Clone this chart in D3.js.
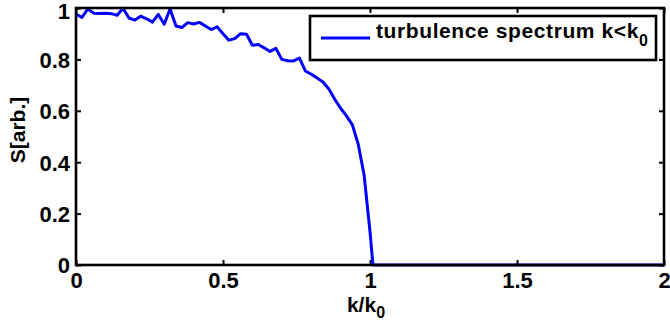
<!DOCTYPE html>
<html><head><meta charset="utf-8">
<script src="https://cdn.jsdelivr.net/npm/d3@7"></script>
<style>
html,body{margin:0;padding:0;background:#fff;}
text{font-family:"Liberation Sans",Arial,Helvetica,sans-serif;font-weight:bold;}
</style></head>
<body><svg id="chart" width="670" height="330"></svg>
<script>
const kValues = [0,0.02,0.04,0.06,0.08,0.10,0.12,0.14,0.16,0.18,0.20,0.22,0.24,0.26,0.28,0.30,0.32,0.34,0.36,0.38,0.40,0.42,0.44,0.46,0.48,0.50,0.52,0.54,0.56,0.58,0.60,0.62,0.64,0.66,0.68,0.70,0.72,0.74,0.76,0.78,0.80,0.82,0.84,0.86,0.88,0.90,0.92,0.94,0.96,0.98,1.00,1.01,2.00];
const sValues = [0.977,0.963,0.996,0.980,0.979,0.980,0.978,0.972,0.999,0.961,0.953,0.968,0.958,0.945,0.975,0.937,0.996,0.930,0.924,0.943,0.938,0.944,0.930,0.916,0.927,0.900,0.875,0.881,0.900,0.898,0.855,0.858,0.845,0.831,0.843,0.800,0.795,0.794,0.805,0.755,0.742,0.728,0.712,0.685,0.645,0.610,0.580,0.545,0.470,0.350,0.130,0,0];
const xTicks = [0,0.5,1,1.5,2];
const yTicks = [0,0.2,0.4,0.6,0.8,1];
const legendLabel = "turbulence spectrum k<k";

const svg = d3.select("#chart");
const L=76,R=664,T=8,B=265;
const x = d3.scaleLinear().domain([0,2]).range([L,R]);
const y = d3.scaleLinear().domain([0,1]).range([B,T]);

// curve
const data = kValues.map((k,i)=>({k,s:sValues[i]}));
svg.append("path").datum(data)
  .attr("fill","none").attr("stroke","#0000ff").attr("stroke-width",3)
  .attr("stroke-linejoin","round")
  .attr("d",d3.line().x(d=>x(d.k)).y(d=>y(d.s)));

// axes
const fmt = d=> String(d);
const tl = 5;
const gb = svg.append("g").attr("transform",`translate(0,${B})`)
  .call(d3.axisBottom(x).tickValues(xTicks).tickSize(-tl).tickPadding(8).tickFormat(fmt));
const gt = svg.append("g").attr("transform",`translate(0,${T})`)
  .call(d3.axisTop(x).tickValues(xTicks).tickSize(-tl).tickFormat(""));
const gl = svg.append("g").attr("transform",`translate(${L},0)`)
  .call(d3.axisLeft(y).tickValues(yTicks).tickSize(-tl).tickPadding(6).tickFormat(fmt));
const gr = svg.append("g").attr("transform",`translate(${R},0)`)
  .call(d3.axisRight(y).tickValues(yTicks).tickSize(-tl).tickFormat(""));
[gb,gt,gl,gr].forEach(g=>{
  g.attr("font-size",null).attr("font-family",null);
  g.select(".domain").remove();
  g.selectAll(".tick line").attr("stroke","#000").attr("stroke-width",2);
  g.selectAll("text").attr("font-size",22).attr("fill","#000")
   .attr("font-family","Liberation Sans, Arial, sans-serif").attr("font-weight","bold");
});
gl.selectAll("text").attr("dy","0.36em");
gl.selectAll(".tick").filter(d=>d===1).select("text").attr("dy","0.46em");
gb.selectAll("text").attr("dy","0.66em");
// box
svg.append("rect").attr("x",L).attr("y",T).attr("width",R-L).attr("height",B-T)
  .attr("fill","none").attr("stroke","#000").attr("stroke-width",2.6);

// axis labels
const xl = svg.append("text").attr("x",366).attr("y",312).attr("text-anchor","middle")
  .attr("font-size",21).attr("fill","#000");
xl.append("tspan").text("k/k");
xl.append("tspan").attr("font-size",16).attr("dy",6).text("0");
svg.append("text").attr("transform","translate(25,130) rotate(-90)")
  .attr("text-anchor","middle").attr("font-size",21).attr("fill","#000").text("S[arb.]");

// legend
svg.append("rect").attr("x",310).attr("y",16).attr("width",346).attr("height",44)
  .attr("fill","#fff").attr("stroke","#000").attr("stroke-width",2.6);
svg.append("line").attr("x1",321).attr("x2",370).attr("y1",38).attr("y2",38)
  .attr("stroke","#0000ff").attr("stroke-width",3);
const lt = svg.append("text").attr("x",376).attr("y",38).attr("font-size",21).attr("fill","#000");
lt.append("tspan").attr("letter-spacing",0.6).text(legendLabel);
lt.append("tspan").attr("font-size",16).attr("dy",8).attr("letter-spacing",0).text("0");
</script></body></html>
